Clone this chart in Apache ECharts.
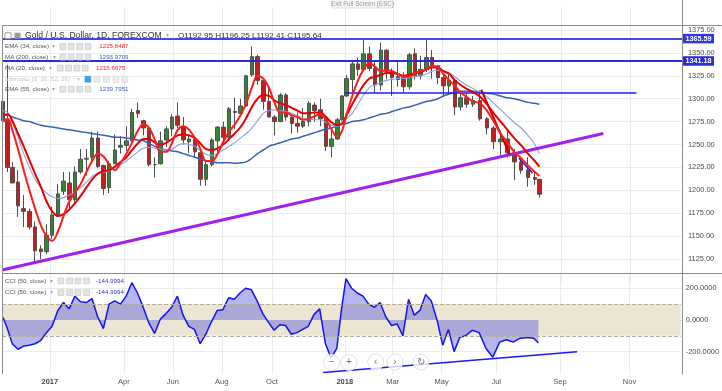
<!DOCTYPE html>
<html><head><meta charset="utf-8">
<script src="https://cdn.jsdelivr.net/npm/echarts@6/dist/echarts.min.js"></script>
<style>html,body{margin:0;padding:0;background:#fff}#c{width:722px;height:391px}</style>
</head><body><div id="c"></div>
<script>
// ---------------- data (weekly candles) ----------------
const weekDates = [
 '2016-11-04','2016-11-10','2016-11-16','2016-11-23','2016-11-30','2016-12-07','2016-12-14','2016-12-21','2016-12-28',
 '2017-01-04','2017-01-11','2017-01-18','2017-01-25','2017-02-01','2017-02-08','2017-02-15','2017-02-22',
 '2017-03-01','2017-03-08','2017-03-15','2017-03-22','2017-03-29','2017-04-05','2017-04-12','2017-04-19','2017-04-26',
 '2017-05-03','2017-05-10','2017-05-17','2017-05-24','2017-05-31','2017-06-07','2017-06-14','2017-06-21','2017-06-28',
 '2017-07-05','2017-07-12','2017-07-19','2017-07-26','2017-08-02','2017-08-09','2017-08-16','2017-08-23','2017-08-30',
 '2017-09-06','2017-09-13','2017-09-20','2017-09-27','2017-10-04','2017-10-11','2017-10-18','2017-10-25',
 '2017-11-01','2017-11-08','2017-11-15','2017-11-22','2017-11-29','2017-12-06','2017-12-13','2017-12-20','2017-12-27',
 '2018-01-03','2018-01-10','2018-01-17','2018-01-24','2018-01-31','2018-02-07','2018-02-14','2018-02-21','2018-02-28',
 '2018-03-07','2018-03-14','2018-03-21','2018-03-28','2018-04-04','2018-04-11','2018-04-18','2018-04-25',
 '2018-05-02','2018-05-09','2018-05-16','2018-05-23','2018-05-30','2018-06-06','2018-06-13','2018-06-20','2018-06-27',
 '2018-07-04','2018-07-11','2018-07-18','2018-07-25','2018-08-01','2018-08-08','2018-08-13'
];
const openP = [1297,1276,1225,1209,1180,1177,1160,1136,1133,
 1151,1173,1199,1208, 1190,1220,1234,1236, 1257,1227,1203,1229,1247, 1249,1254,1287,1276, 1268,1228,1229,1255,1267,
 1281,1269,1253,1256, 1241,1212,1228,1254, 1269,1258,1286,1284,1292, 1326,1346,1320,1297, 1280,1275,1304,1280,
 1273,1270,1275,1293,1288, 1278,1248,1256,1277,
 1303,1321,1338,1332,1349, 1333,1315,1353,1330, 1321,1324,1313,1349, 1325,1332,1345,1336, 1323,1314,1320,1291,1301,
 1294,1298,1278,1268, 1253,1256,1241,1231, 1222,1214,1212];
const highP = [1308,1337,1231,1222,1195,1180,1166,1140,1163,
 1182,1207,1220,1220, 1226,1245,1245,1264, 1264,1228,1232,1261,1259, 1270,1289,1296,1277, 1269,1236,1264,1270,1283,
 1296,1280,1260,1257, 1243,1233,1257,1270, 1275,1291,1301,1300,1326, 1357,1348,1320,1312, 1282,1306,1306,1283,
 1285,1290,1297,1296,1300, 1280,1265,1279,1304,
 1326,1341,1345,1366,1357, 1341,1361,1354,1333, 1341,1329,1350,1355, 1347,1366,1353,1336, 1326,1326,1322,1308,1306,
 1303,1309,1280,1270, 1265,1265,1245,1236, 1236,1221,1212];
const lowP = [1272,1220,1208,1171,1160,1157,1122,1125,1130,
 1147,1171,1195,1180, 1187,1218,1216,1229, 1224,1195,1197,1229,1240, 1243,1250,1279,1260, 1226,1214,1228,1247,1259,
 1268,1250,1241,1236, 1205,1205,1226,1242, 1250,1254,1267,1280,1291, 1324,1315,1288,1280, 1260,1275,1276,1262,
 1263,1268,1270,1275,1270, 1243,1236,1255,1276,
 1302,1307,1325,1330,1330, 1306,1309,1321,1303, 1313,1307,1310,1321, 1321,1329,1322,1316, 1302,1304,1282,1287,1290,
 1291,1276,1261,1245, 1238,1236,1211,1218, 1204,1206,1192];
const closeP = [1276,1225,1208,1183,1177,1160,1134,1133,1151,
 1173,1196,1210,1190, 1220,1234,1235,1257, 1226,1202,1229,1244,1249, 1254,1285,1284,1268, 1228,1228,1254,1267,1280,
 1271,1255,1256,1242, 1212,1228,1255,1269, 1258,1289,1285,1292,1325, 1346,1320,1297,1280, 1275,1304,1280,1273,
 1270,1275,1295,1287,1278, 1248,1256,1277,1303,
 1322,1338,1332,1349,1333, 1315,1353,1330,1323, 1324,1313,1348,1325, 1332,1345,1336,1323, 1314,1320,1291,1301,1294,
 1298,1278,1268,1253, 1256,1241,1231,1222, 1214,1212,1195.64];
const ma20 = [1275,1278,1266,1245,1222,1200,1180,1162,1150,
 1145,1155,1172,1188, 1198,1207,1220,1232, 1240,1237,1228,1222,1230, 1240,1252,1265,1272, 1268,1255,1242,1242,1252,
 1266,1270,1266,1257, 1245,1232,1232,1240, 1253,1264,1272,1282,1295, 1312,1325,1322,1312, 1295,1285,1285,1282,
 1280,1277,1278,1281,1283, 1277,1266,1258,1265,
 1283,1303,1320,1332,1339, 1335,1330,1331,1330, 1327,1324,1324,1328, 1330,1332,1336,1334, 1327,1320,1314,1307,1302,
 1297,1295,1287,1275, 1262,1252,1242,1235, 1227,1220,1215.67];
const ema34 = [1282,1283,1276,1262,1248,1233,1218,1204,1188,
 1177,1172,1174,1179, 1186,1194,1203,1212, 1218,1221,1222,1226,1231, 1236,1244,1251,1256, 1256,1252,1250,1252,1256,
 1260,1261,1260,1257, 1251,1245,1244,1246, 1250,1256,1262,1269,1279, 1291,1300,1304,1303, 1298,1295,1293,1290,
 1287,1284,1284,1285,1285, 1280,1274,1271,1273,
 1282,1294,1305,1315,1322, 1324,1326,1328,1328, 1327,1325,1326,1328, 1329,1332,1334,1334, 1330,1327,1320,1315,1311,
 1307,1302,1294,1284, 1275,1266,1257,1249, 1240,1232,1225.85];
const ema55 = [1287,1285,1275,1258,1240,1225,1212,1203,1197,
 1193,1191,1192,1195, 1198,1203,1209,1215, 1219,1220,1221,1224,1228, 1232,1237,1242,1246, 1247,1246,1245,1244,1245,
 1249,1251,1250,1248, 1243,1239,1238,1240, 1244,1248,1252,1257,1262, 1268,1276,1284,1287, 1288,1287,1286,1284,
 1281,1279,1278,1277,1277, 1274,1271,1270,1272,
 1278,1284,1294,1304,1312, 1315,1318,1320,1321, 1322,1322,1323,1324, 1325,1327,1330,1331, 1330,1328,1324,1319,1315,
 1311,1307,1302,1295, 1288,1281,1274,1268, 1260,1250,1239.8];
const ma200 = [1282,1282,1280,1278,1276,1275,1273,1271,1270,
 1269,1268,1267,1266, 1265,1264,1263,1262, 1261,1260,1259,1258,1258, 1257,1256,1255,1254, 1251,1248,1246,1244,1243,
 1242,1240,1238,1236, 1234,1232,1231,1230, 1230,1230,1229.5,1230,1231, 1235,1240,1244,1248, 1250,1252,1254,1256,
 1257,1259,1261,1263,1265, 1267,1268,1270,1272,
 1273,1275,1276,1277,1279, 1281,1283,1284,1286, 1288,1290,1291,1293, 1295,1297,1298,1300, 1303,1305,1307,1308,1308,
 1308,1307,1306,1305, 1303,1301,1300,1298, 1296,1295,1293.97];
const cci50 = [15,-60,-150,-185,-165,-160,-150,-130,-80,
 -40,60,110,70, 150,115,110,135, 20,-55,100,120,100, 150,235,170,80, -20,-85,5,40,80,
 150,30,-40,-60, -150,-90,-10,60, 65,140,130,170,200, 190,120,40,-15, -65,-30,-35,-90,
 -80,-60,-40,35,70, -150,-240,-180,60,
 260,200,170,150,100, 80,110,20,-35, -25,-100,130,30, 60,160,120,0, -160,-60,-200,-110,-100,
 -65,-80,-180,-235, -140,-125,-140,-115, -110,-115,-145];

// horizontal levels and drawn trend lines (price / CCI values)
const resistTop = 1365.59, resistMid = 1341.18, lastClose = 1195.64;
const supportSeg = [['2018-01-02', 1306.5], ['2018-11-06', 1306.5]];
const purpleTrend = [['2016-11-03', 1113], ['2018-10-08', 1262]];
const redTrend = [['2018-06-14', 1310], ['2018-07-13', 1239]];
const blueTrend = [['2018-07-23', 1235], ['2018-08-06', 1219]];
const cciTrend = [['2017-12-04', -332], ['2018-09-16', -200]];
const cciBand = [100, -100];

// time axis: trading-day bars as TradingView lays them out
const AXIS_FIRST_DAY = '2016-11-03', AXIS_LAST_DAY = '2018-12-16';
const SIX_DAY_WEEKS_FROM = '2018-06-03', CALENDAR_DAYS_FROM = '2018-08-14';
const MARKET_HOLIDAYS = ['2017-12-25', '2018-01-01'];
const tickMonths = ['2017-01','2017-04','2017-06','2017-08','2017-10','2018-01','2018-03','2018-05','2018-07','2018-09','2018-11'];
const monthNames = ['Jan','Feb','Mar','Apr','May','Jun','Jul','Aug','Sep','Oct','Nov','Dec'];

function buildBarDays() {
  const out = [];
  const [y0,m0,d0] = AXIS_FIRST_DAY.split('-').map(Number);
  const [y1,m1,d1] = AXIS_LAST_DAY.split('-').map(Number);
  for (let t = Date.UTC(y0,m0-1,d0); t <= Date.UTC(y1,m1-1,d1); t += 86400000) {
    const d = new Date(t), s = d.toISOString().slice(0,10), wd = d.getUTCDay();
    if (s >= CALENDAR_DAYS_FROM) { out.push(s); continue; }
    if (wd === 6) continue;
    if (wd === 0 && s < SIX_DAY_WEEKS_FROM) continue;
    if (MARKET_HOLIDAYS.includes(s)) continue;
    out.push(s);
  }
  return out;
}
const cats = buildBarDays();
const tickSet = new Set();
cats.forEach((s, i) => {
  const k = s.slice(0,7);
  if (tickMonths.includes(k) && (i === 0 || cats[i-1].slice(0,7) !== k)) tickSet.add(i);
});
const tickInterval = (idx) => tickSet.has(idx);

const FONT = '"Liberation Sans", Arial, sans-serif';
const pairs = (arr) => weekDates.map((d, i) => [d, arr[i]]);
const candleRows = weekDates.map((d, i) => [d, openP[i], closeP[i], lowP[i], highP[i]]);

function lineSeries(name, arr, color, width, z) {
  return {name, type:'line', xAxisIndex:0, yAxisIndex:0, data: pairs(arr), showSymbol:false, smooth:0.4,
    lineStyle:{color, width}, z, silent:true};
}
function segment(p, color, width) {
  return [{coord:p[0], lineStyle:{color, width, type:'solid'}, label:{show:false}}, {coord:p[1]}];
}
function levelLabel(text, bg) {
  return {show:true, position:'end', distance:1, formatter:text, backgroundColor:bg, color:'#fff',
    fontSize:7.2, fontWeight:'bold', fontFamily:FONT, padding:[1.5,2.5,1,2.5]};
}

// ---------------- legend / overlay graphics ----------------
const G = [];
function txt(x, y, s, fill, size, weight) {
  G.push({type:'text', x, y, z:100, silent:true,
    style:{text:s, fill, font:(weight||'normal') + ' ' + (size||6.2) + 'px ' + FONT, verticalAlign:'middle'}});
}
function box(x, y, fill, stroke) {
  G.push({type:'rect', z:100, silent:true, shape:{x, y:y-3, width:5.8, height:5.8}, style:{fill, stroke:stroke||'#c9c9c9', lineWidth:0.7}});
}
function hline(x1, x2, y, c) { G.push({type:'line', z:60, silent:true, shape:{x1, y1:y, x2, y2:y}, style:{stroke:c, lineWidth:1}}); }
function vline(x, y1, y2, c) { G.push({type:'line', z:60, silent:true, shape:{x1:x, y1, x2:x, y2}, style:{stroke:c, lineWidth:1}}); }

hline(2, 722, 25.5, '#8c8c8c');
hline(2, 722, 273.5, '#8c8c8c');
vline(2.5, 25, 374, '#8c8c8c');
vline(682.5, 0, 374.5, '#8c8c8c');

// exit full screen button
G.push({type:'rect', z:100, silent:true, shape:{x:332, y:-1, width:61, height:9}, style:{fill:'#f6f6f6', stroke:'#d8d8d8', lineWidth:0.8}});
G.push({type:'text', z:101, silent:true, x:362.5, y:4, style:{text:'Exit Full Screen (ESC)', fill:'#9a9a9a', font:'6.3px ' + FONT, align:'center', verticalAlign:'middle'}});

// title row
G.push({type:'rect', z:100, silent:true, shape:{x:5, y:32.7, width:6, height:6}, style:{fill:'#fff', stroke:'#888', lineWidth:0.8}});
G.push({type:'rect', z:100, silent:true, shape:{x:14.5, y:32.7, width:6, height:6}, style:{fill:'#9a9a9a'}});
txt(25, 35.7, 'Gold / U.S. Dollar, 1D, FOREXCOM', '#333', 8.6);
txt(166, 35.7, '\u25BE', '#aaa', 6);
txt(178, 35.7, 'O1192.95 H1196.25 L1192.41 C1195.64', '#333', 8.1);

const rows = [
  {y:46.7, label:'EMA (34, close)', arrow:51.5, boxes:[60,68.3,76.7,85], val:'1225.8487', vx:99.3, vc:'#ff2424'},
  {y:57.3, label:'MA (200, close)', arrow:52.5, boxes:[60,68.3,76.7,85], val:'1293.9709', vx:99.3, vc:'#3a5cbf'},
  {y:68.3, label:'MA (20, close)', arrow:49, boxes:[57.3,65.7,74,82.3], val:'1215.6675', vx:96, vc:'#ff2424'},
  {y:89.3, label:'EMA (55, close)', arrow:51.5, boxes:[60,68.3,76.7,85], val:'1239.7951', vx:99.3, vc:'#3a5cbf'},
  {y:281, label:'CCI (50, close)', arrow:50, boxes:[58,66.7,75,83.7], val:'-144.9994', vx:96, vc:'#3030e6'},
  {y:292.7, label:'CCI (50, close)', arrow:50, boxes:[58,66.7,75,83.7], val:'-144.9994', vx:96, vc:'#3030e6'}
];
rows.forEach(r => {
  txt(5, r.y, r.label, '#555', 6.2);
  txt(r.arrow, r.y, '\u25BE', '#aaa', 5.5);
  r.boxes.forEach(bx => box(bx, r.y, '#e4e4e4'));
  txt(r.vx, r.y, r.val, r.vc, 6.2);
});
txt(5, 79.3, 'Ichimoku (9, 26, 52, 26)', '#c6c6c6', 6.2);
txt(77, 79.3, '\u25BE', '#ccc', 5.5);
box(85, 79.3, '#3aa0e8', '#3aa0e8');
[94, 103.5, 113, 122].forEach(bx => box(bx, 79.3, '#ececec', '#dadada'));

// navigation buttons
[[331.7,362.5,'\u2212'],[349,362.5,'+'],[375.7,362,'\u2039'],[395,362,'\u203A'],[421,362,'\u21BB']].forEach(b => {
  G.push({type:'circle', z:100, silent:true, shape:{cx:b[0], cy:b[1], r:8}, style:{fill:'rgba(255,255,255,0.8)', stroke:'#e2e2e2', lineWidth:1}});
  G.push({type:'text', z:101, silent:true, x:b[0], y:b[1], style:{text:b[2], fill:'#777', font:'10px ' + FONT, align:'center', verticalAlign:'middle'}});
});

// ---------------- chart ----------------
const chart = echarts.init(document.getElementById('c'), null, {renderer:'canvas'});
const option = {
  animation:false,
  backgroundColor:'#fff',
  textStyle:{fontFamily:FONT},
  grid:[
    {left:2, right:40, top:7.1, height:274.8},
    {left:2, right:40, top:274.3, height:99.7}
  ],
  xAxis:[
    {type:'category', gridIndex:0, data:cats, boundaryGap:false,
     axisLine:{show:false}, axisTick:{show:false}, axisLabel:{show:false},
     splitLine:{show:true, interval:tickInterval, lineStyle:{color:'#ebebeb', width:1}}},
    {type:'category', gridIndex:1, data:cats, boundaryGap:false,
     axisLine:{show:true, lineStyle:{color:'#8c8c8c'}}, axisTick:{show:false},
     axisLabel:{interval:tickInterval, fontSize:7.5, color:'#555', margin:4, fontFamily:FONT,
       formatter:(v) => v.slice(5,7) === '01' ? '{y|' + v.slice(0,4) + '}' : monthNames[+v.slice(5,7) - 1],
       rich:{y:{fontWeight:'bold', fontSize:7.5, color:'#444', fontFamily:FONT}}},
     splitLine:{show:true, interval:tickInterval, lineStyle:{color:'#ebebeb', width:1}}}
  ],
  yAxis:[
    {type:'value', gridIndex:0, position:'right', min:1100, max:1400, interval:25, scale:true,
     axisLine:{show:false}, axisTick:{show:false},
     axisLabel:{fontSize:7.4, color:'#4a4a4a', margin:6, fontFamily:FONT, showMinLabel:false, showMaxLabel:false,
       formatter:(v) => v.toFixed(2)},
     splitLine:{show:true, showMinLine:false, showMaxLine:false, lineStyle:{color:'#ebebeb'}}},
    {type:'value', gridIndex:1, position:'right', min:-341, max:288, splitNumber:3,
     axisLine:{show:false}, axisTick:{show:false},
     axisLabel:{fontSize:7.4, color:'#4a4a4a', margin:5, fontFamily:FONT, showMinLabel:false, showMaxLabel:false,
       formatter:(v) => v.toFixed(4)},
     splitLine:{show:true, showMinLine:false, showMaxLine:false, lineStyle:{color:'#ebebeb'}}}
  ],
  series:[
    {name:'Gold', type:'candlestick', xAxisIndex:0, yAxisIndex:0, data:candleRows,
     encode:{x:0, y:[1,2,3,4]}, barWidth:4, z:3, silent:true,
     itemStyle:{color:'#2e8a2e', color0:'#c22020', borderColor:'#4f4f4f', borderColor0:'#4f4f4f', borderWidth:1},
     markLine:{silent:true, symbol:['none','none'], animation:false,
       data:[
         {yAxis:resistTop, lineStyle:{color:'#4545f0', width:2, type:'solid'}, label:levelLabel(String(resistTop), '#3434e6')},
         {yAxis:resistMid, lineStyle:{color:'#2a2ade', width:2, type:'solid'}, label:levelLabel(String(resistMid), '#2a2ade')},
         {yAxis:lastClose, lineStyle:{opacity:0}, label:levelLabel(String(lastClose), '#2f7a1f')},
         segment(supportSeg, '#1a1aff', 1.5),
         segment(purpleTrend, '#a020f0', 3),
         segment(redTrend, '#c00000', 2),
         segment(blueTrend, '#1a1aff', 1.5)
       ]}},
    lineSeries('MA200', ma200, '#3a60b6', 1.5, 4),
    lineSeries('EMA55', ema55, '#87a1de', 1.1, 4),
    lineSeries('EMA34', ema34, '#e80000', 2, 5),
    lineSeries('MA20', ma20, '#ff1c1c', 2, 5),
    {name:'band', type:'line', xAxisIndex:1, yAxisIndex:1, data:pairs(cci50), showSymbol:false, z:1, silent:true,
     lineStyle:{opacity:0},
     markArea:{silent:true, itemStyle:{color:'#ede5d3'}, data:[[{yAxis:cciBand[0]}, {yAxis:cciBand[1]}]]},
     markLine:{silent:true, symbol:['none','none'], label:{show:false},
       lineStyle:{color:'#b5ab9a', type:'dashed', width:1},
       data:[{yAxis:cciBand[0]}, {yAxis:cciBand[1]}]}},
    {name:'CCI', type:'line', xAxisIndex:1, yAxisIndex:1, data:pairs(cci50), showSymbol:false, z:3, silent:true,
     lineStyle:{color:'#1414ee', width:1.5},
     areaStyle:{color:'rgba(80,80,220,0.6)', origin:'auto'},
     markLine:{silent:true, symbol:['none','none'], data:[segment(cciTrend, '#1a1aff', 1.5)]}}
  ],
  graphic:G
};
chart.setOption(option);
</script>
</body></html>
